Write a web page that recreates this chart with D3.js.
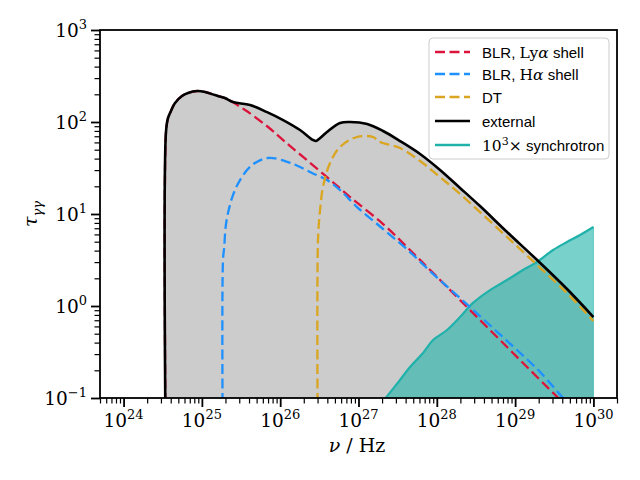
<!DOCTYPE html>
<html>
<head>
<meta charset="utf-8">
<script src="https://cdn.jsdelivr.net/npm/d3@7"></script>
<style>
  body { margin: 0; background: white; }
  .serif { font-family: "DejaVu Serif", serif; }
  .sans { font-family: "Liberation Sans", sans-serif; }
</style>
</head>
<body>
<div id="chart"></div>
<script>
// values: frequency nu in Hz, optical depth tau
var externalNu = [3.48e24, 3.48e24, 3.69e24, 3.92e24, 4.54e24, 5.57e24, 6.65e24, 8.67e24, 1.10e25, 1.47e25, 1.97e25, 2.50e25, 4.12e25, 6.79e25, 1.09e26, 1.79e26, 2.63e26, 2.87e26, 3.13e26, 3.96e26, 5.81e26, 7.80e26, 1.29e27, 2.06e27, 3.39e27, 6.11e27, 1.10e28, 1.98e28, 3.56e28, 7.89e28, 1.91e29, 4.60e29, 1.0e30];
var externalTau = [0.01, 77.8, 110, 125, 161, 192, 207, 217, 212, 196, 182, 165, 153, 128, 105, 81.8, 63.7, 62.1, 65.4, 77.8, 97.5, 100, 95.1, 79.8, 62.1, 44.9, 30.1, 19.2, 12.2, 6.37, 3.16, 1.53, 0.759];

var lyaNu = [3.48e24, 3.48e24, 3.69e24, 3.92e24, 4.54e24, 5.57e24, 6.65e24, 8.67e24, 1.10e25, 1.47e25, 1.97e25, 3.56e25, 7.00e25, 1.09e26, 1.96e26, 3.96e26, 7.80e26, 2.06e27, 4.55e27, 8.95e27, 1.98e28, 7.89e28, 2.08e29, 3.44e29, 5.03e29];
var lyaTau = [0.01, 77.8, 110, 125, 161, 192, 207, 217, 212, 196, 182, 135, 88.2, 63.7, 41.7, 25.2, 15.3, 7.78, 4.06, 2.29, 1.16, 0.358, 0.157, 0.103, 0.074];

var haNu = [1.86e25, 1.86e25, 1.93e25, 2.01e25, 2.16e25, 2.50e25, 3.07e25, 4.37e25, 7.00e25, 1.26e26, 1.79e26, 2.55e26, 3.96e26, 5.81e26, 9.58e26, 2.06e27, 4.55e27, 8.95e27, 1.98e28, 7.89e28, 2.08e29, 3.97e29, 5.82e29];
var haTau = [0.01, 3.16, 4.38, 7.22, 10.3, 16.1, 23.4, 34.1, 40.6, 36.7, 32.4, 27.9, 23.4, 18.2, 11.9, 6.87, 3.86, 2.23, 1.22, 0.417, 0.192, 0.103, 0.074];

var dtNu = [3.04e26, 3.04e26, 3.23e26, 3.52e26, 4.33e26, 5.81e26, 9.58e26, 1.53e27, 1.88e27, 3.39e27, 6.11e27, 1.10e28, 1.98e28, 3.56e28, 7.89e28, 1.91e29, 4.60e29, 1.0e30];
var dtTau = [0.01, 5.21, 11.0, 19.7, 35.8, 53.5, 68.7, 68.7, 60.6, 52.2, 37.7, 25.2, 16.5, 10.5, 5.62, 2.79, 1.38, 0.687];

var synchNu = [2.18e27, 3.39e27, 4.55e27, 6.67e27, 8.95e27, 1.35e28, 1.98e28, 2.90e28, 4.79e28, 7.89e28, 1.26e29, 1.91e29, 3.05e29, 4.60e29, 6.75e29, 1.0e30];
var synchTau = [0.098, 0.157, 0.217, 0.308, 0.427, 0.548, 0.759, 1.08, 1.49, 1.92, 2.46, 3.01, 4.06, 4.96, 5.91, 7.22];

var xTicks = [1e24, 1e25, 1e26, 1e27, 1e28, 1e29, 1e30];
var xTickExp = ["24", "25", "26", "27", "28", "29", "30"];
var yTicks = [1e-1, 1e0, 1e1, 1e2, 1e3];
var yTickExp = ["\u22121", "0", "1", "2", "3"];

var width = 640, height = 480;
var margin = {left: 100, right: 23, top: 30, bottom: 82};

var svg = d3.select("#chart").append("svg")
    .attr("width", width)
    .attr("height", height);

// log axes, limits as in the picture
var xScale = d3.scaleLog()
    .domain([5e23, 2e30])
    .range([margin.left, width - margin.right]);

var yScale = d3.scaleLog()
    .domain([0.1, 1000])
    .range([height - margin.bottom, margin.top]);

var bottom = height - margin.bottom;

svg.append("clipPath").attr("id", "plotArea")
  .append("rect")
    .attr("x", margin.left)
    .attr("y", margin.top)
    .attr("width", width - margin.left - margin.right)
    .attr("height", bottom - margin.top);

var plot = svg.append("g").attr("clip-path", "url(#plotArea)");

var line = d3.line()
    .x(function(d) { return xScale(d[0]); })
    .y(function(d) { return yScale(d[1]); })
    .curve(d3.curveCatmullRom.alpha(0.5));

var area = d3.area()
    .x(function(d) { return xScale(d[0]); })
    .y0(bottom + 5)
    .y1(function(d) { return yScale(d[1]); })
    .curve(d3.curveCatmullRom.alpha(0.5));

var external = d3.zip(externalNu, externalTau);
var synch = d3.zip(synchNu, synchTau);

// grey fill under the total
plot.append("path")
    .datum(external)
    .attr("d", area)
    .attr("fill", "#cccccc");

// synchrotron fill
plot.append("path")
    .datum(synch)
    .attr("d", area)
    .attr("fill", "#20b2aa")
    .attr("fill-opacity", 0.6)
    .attr("stroke", "#20b2aa")
    .attr("stroke-opacity", 0.6)
    .attr("stroke-width", 1);

plot.append("path")
    .datum(synch)
    .attr("d", line)
    .attr("fill", "none")
    .attr("stroke", "#20b2aa")
    .attr("stroke-width", 2.2);

// dashed components
var components = [
  {nu: lyaNu, tau: lyaTau, color: "#dc143c"},
  {nu: haNu, tau: haTau, color: "#1e90ff"},
  {nu: dtNu, tau: dtTau, color: "#daa520"}
];

components.forEach(function(c) {
  plot.append("path")
      .datum(d3.zip(c.nu, c.tau))
      .attr("d", line)
      .attr("fill", "none")
      .attr("stroke", c.color)
      .attr("stroke-width", 2.3)
      .attr("stroke-dasharray", "10,4.5");
});

plot.append("path")
    .datum(external)
    .attr("d", line)
    .attr("fill", "none")
    .attr("stroke", "black")
    .attr("stroke-width", 2.6)
    .attr("stroke-linejoin", "round");

// minor tick positions
function minorTicks(scale, from, to) {
  var list = [];
  var dom = scale.domain();
  for (var k = from; k <= to; k++) {
    for (var m = 2; m <= 9; m++) {
      var v = m * Math.pow(10, k);
      if (v >= dom[0] * 0.999 && v <= dom[1] * 1.001) list.push(v);
    }
  }
  return list;
}

// x axis
svg.append("g")
    .attr("transform", "translate(0," + bottom + ")")
    .call(d3.axisBottom(xScale).tickValues(minorTicks(xScale, 23, 30)).tickSize(5.5).tickFormat(""))
    .call(function(g) { g.select(".domain").remove(); g.selectAll("line").attr("stroke-width", 1.2); });

svg.append("g")
    .attr("transform", "translate(0," + bottom + ")")
    .call(d3.axisBottom(xScale).tickValues(xTicks).tickSize(9).tickFormat(""))
    .call(function(g) { g.select(".domain").remove(); g.selectAll("line").attr("stroke-width", 1.8); });

// y axis
svg.append("g")
    .attr("transform", "translate(" + margin.left + ",0)")
    .call(d3.axisLeft(yScale).tickValues(minorTicks(yScale, -1, 2)).tickSize(5.5).tickFormat(""))
    .call(function(g) { g.select(".domain").remove(); g.selectAll("line").attr("stroke-width", 1.2); });

svg.append("g")
    .attr("transform", "translate(" + margin.left + ",0)")
    .call(d3.axisLeft(yScale).tickValues(yTicks).tickSize(9).tickFormat(""))
    .call(function(g) { g.select(".domain").remove(); g.selectAll("line").attr("stroke-width", 1.8); });

// frame
svg.append("rect")
    .attr("x", margin.left)
    .attr("y", margin.top)
    .attr("width", width - margin.left - margin.right)
    .attr("height", bottom - margin.top)
    .attr("fill", "none")
    .attr("stroke", "black")
    .attr("stroke-width", 1.8);

// tick labels as 10^n
xTicks.forEach(function(t, i) {
  var txt = svg.append("text")
      .attr("class", "serif")
      .attr("x", xScale(t))
      .attr("y", bottom + 29)
      .attr("text-anchor", "middle")
      .attr("font-size", 18.5);
  txt.append("tspan").text("10");
  txt.append("tspan").attr("dy", -8).attr("font-size", 13).text(xTickExp[i]);
});

yTicks.forEach(function(t, i) {
  var txt = svg.append("text")
      .attr("class", "serif")
      .attr("x", margin.left - 13)
      .attr("y", yScale(t) + 7)
      .attr("text-anchor", "end")
      .attr("font-size", 18.5);
  txt.append("tspan").text("10");
  txt.append("tspan").attr("dy", -8).attr("font-size", 13).text(yTickExp[i]);
});

// axis labels
var xLabel = svg.append("text")
    .attr("class", "serif")
    .attr("x", 357)
    .attr("y", 452)
    .attr("text-anchor", "middle")
    .attr("font-size", 19);
xLabel.append("tspan").attr("font-style", "italic").text("\u03bd");
xLabel.append("tspan").text(" / Hz");

var yLabel = svg.append("text")
    .attr("class", "serif")
    .attr("text-anchor", "middle")
    .attr("transform", "translate(37,214) rotate(-90)")
    .attr("font-size", 19);
yLabel.append("tspan").attr("font-style", "italic").text("\u03c4");
yLabel.append("tspan").attr("font-style", "italic").attr("dy", 5).attr("font-size", 13).text("\u03b3\u03b3");

// legend
var legend = svg.append("g");

legend.append("rect")
    .attr("x", 429)
    .attr("y", 38)
    .attr("width", 180)
    .attr("height", 121)
    .attr("rx", 4)
    .attr("fill", "white")
    .attr("fill-opacity", 0.8)
    .attr("stroke", "#cccccc");

var legendItems = [
  {color: "#dc143c", dash: "10,4.5", y: 52, parts: [["sans", "BLR, "], ["serif", "Ly"], ["serif-i", "\u03b1"], ["sans", " shell"]]},
  {color: "#1e90ff", dash: "10,4.5", y: 74, parts: [["sans", "BLR, "], ["serif", "H"], ["serif-i", "\u03b1"], ["sans", " shell"]]},
  {color: "#daa520", dash: "10,4.5", y: 97, parts: [["sans", "DT"]]},
  {color: "black", dash: null, y: 121, parts: [["sans", "external"]]},
  {color: "#20b2aa", dash: null, y: 145, parts: [["serif", "10"], ["sup", "3"], ["serif", "\u00d7"], ["sans", " synchrotron"]]}
];

legendItems.forEach(function(d) {
  legend.append("line")
      .attr("x1", 435)
      .attr("x2", 470)
      .attr("y1", d.y)
      .attr("y2", d.y)
      .attr("stroke", d.color)
      .attr("stroke-width", d.dash ? 2.3 : 2.6)
      .attr("stroke-dasharray", d.dash);

  var txt = legend.append("text")
      .attr("x", 482)
      .attr("y", d.y + 5.5)
      .attr("font-size", 15);
  var shifted = false;
  d.parts.forEach(function(p) {
    var ts = txt.append("tspan").text(p[1]);
    if (p[0] == "sans") ts.attr("class", "sans");
    if (p[0] == "serif") ts.attr("class", "serif").attr("font-size", 15.5);
    if (p[0] == "serif-i") ts.attr("class", "serif").attr("font-style", "italic").attr("font-size", 15.5);
    if (p[0] == "sup") { ts.attr("class", "serif").attr("font-size", 11).attr("dy", -6); shifted = true; }
    else if (shifted) { ts.attr("dy", 6); shifted = false; }
  });
});
</script>
</body>
</html>
